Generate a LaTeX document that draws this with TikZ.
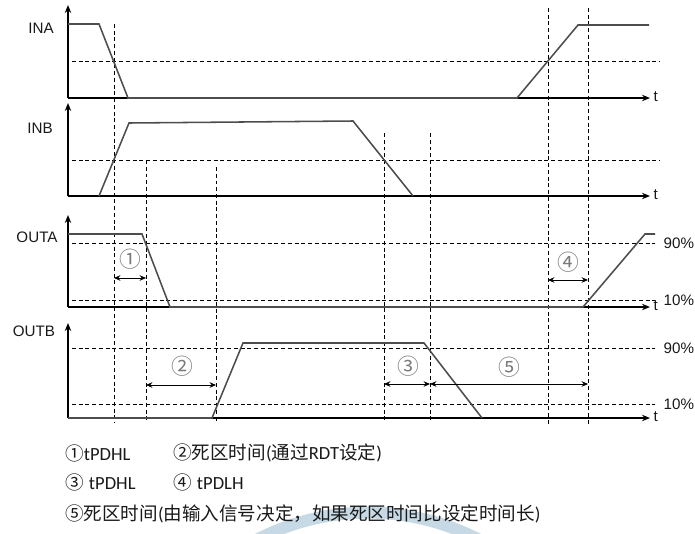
\documentclass[tikz,border=0pt]{standalone}
\usepackage{fontspec}
\setmainfont{Liberation Sans}
\newfontfamily\cjk{Noto Sans CJK SC}
\newfontfamily\carlito{Carlito}
\usetikzlibrary{arrows.meta}
\definecolor{sig}{HTML}{4D4D4D}
\definecolor{marknum}{HTML}{7A7A7A}
\definecolor{ring}{HTML}{C6D9E4}
\tikzset{
	axis/.style={line width=0.95pt, -{Stealth[length=2mm,width=1.6mm]}},
	signal/.style={sig, line width=1.1pt},
	level/.style={line width=0.65pt, dash pattern=on 2.8pt off 2pt},
	gap/.style={line width=0.7pt, {Stealth[length=1.6mm,width=1.4mm]}-{Stealth[length=1.6mm,width=1.4mm]}},
	lab/.style={font=\fontsize{10.8}{12}\selectfont, text=black!90, inner sep=1pt},
	num/.style={font=\cjk\fontsize{15.5}{17}\selectfont, text=marknum, inner sep=0pt},
	legend/.style={anchor=west, font=\fontsize{13.2}{15}\selectfont, text=black!90, inner sep=0pt},
}
\begin{document}
\begin{tikzpicture}[x=0.25mm,y=-0.25mm]
		\useasboundingbox (0,0) rectangle (695,533);
		
		% ring in the background
		\begin{scope}
			\clip (0,0) rectangle (695,533);
			\draw [ring, line width=3mm] (368,753) circle [radius=60.1mm];
		\end{scope}
		
		% axes
		\foreach \name/\base/\top in {ina/98/5, inb/196/103, outa/307/215, outb/418/323} {
			\draw [axis] (68,\base) -- (68,\top);
			\draw [axis] (68,\base) -- (650,\base);
			\node [lab, anchor=west] (t\name) at (652,\base-1) {t};
		}
		\node [lab] (ina) at (41,28) {INA};
		\node [lab] (inb) at (40,128) {INB};
		\node [lab] (outa) at (37,237) {OUTA};
		\node [lab] (outb) at (34,331) {OUTB};
		
		% levels
		\foreach \y/\xe in {61/660, 160/660, 243/655, 300/655, 348/655, 404/655}
			\draw [level] (72,\y) -- (\xe,\y);
		\node [lab, anchor=west] (hia) at (662,243) {90\%};
		\node [lab, anchor=west] (loa) at (662,300) {10\%};
		\node [lab, anchor=west] (hib) at (662,348) {90\%};
		\node [lab, anchor=west] (lob) at (662,404) {10\%};
		
		% time marks
		\foreach \x/\ya/\yb in {114/24/423, 146/160/423, 216/167/423, 384/133/421, 430/133/421, 548/8/426, 588/8/426}
			\draw [level] (\x,\ya) -- (\x,\yb);
		
		% signals
		\draw [signal] (68,24) -- (99,24) -- (128,98) -- (517,98) -- (578,25) -- (649,25);
		\draw [signal] (99,196) -- (129,123) -- (353,121) -- (413,196);
		\draw [signal] (68,234) -- (142,234) -- (170,307) -- (583,307) -- (645,234) -- (655,234);
		\draw [signal] (68,418) -- (212,418) -- (243,343) -- (424,343) -- (482,418);
		
		% delays
		\draw [gap] (114,278) -- (146,278);
		\node [num] (d1) at (130,259) {①};
		\draw [gap] (548,280) -- (588,280);
		\node [num] (d4) at (568,262) {④};
		\draw [gap] (146,385) -- (216,385);
		\node [num] (d2) at (182,366) {②};
		\draw [gap] (384,384) -- (430,384);
		\node [num] (d3) at (408,366) {③};
		\draw [gap] (430,384) -- (588,384);
		\node [num] (d5) at (509,367) {⑤};
		
		% notes
		\node [legend] (note1) at (65,453) {{\cjk ①}{\carlito tPDHL}};
		\node [legend] (note2) at (173,453) {{\cjk ②死区时间}{\carlito (}{\cjk 通过}{\carlito RDT}{\cjk 设定}{\carlito )}};
		\node [legend] (note3) at (65,482) {{\cjk ③} {\carlito tPDHL}};
		\node [legend] (note4) at (173,482) {{\cjk ④} {\carlito tPDLH}};
		\node [legend] (note5) at (65,514) {{\cjk ⑤死区时间}{\carlito (}{\cjk 由输入信号决定，如果死区时间比设定时间长}{\carlito )}};
	\end{tikzpicture}
\end{document}
